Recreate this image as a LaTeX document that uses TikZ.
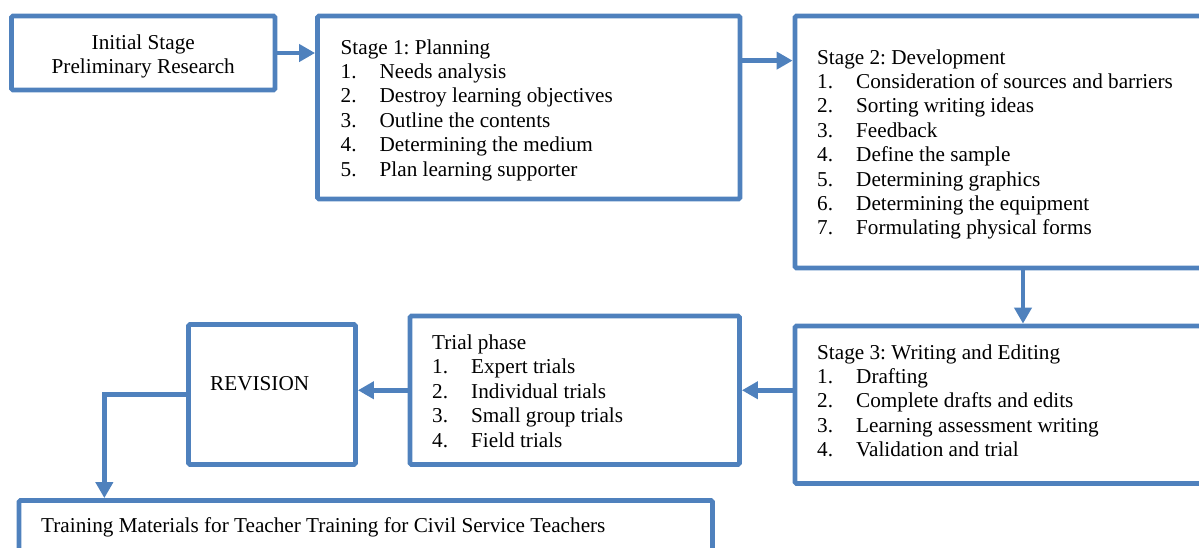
\documentclass[tikz,border=0pt]{standalone}
\usepackage{fontspec}
\setmainfont{Liberation Serif}
\usetikzlibrary{positioning,arrows.meta}

\definecolor{boxblue}{RGB}{79,129,189}

\newcommand{\stepitem}[2]{\makebox[39pt][l]{#1}#2}
\frenchspacing

\begin{document}
\begin{tikzpicture}[x=1pt, y=-1pt,
  stagebox/.style={draw=boxblue, line width=4.8pt, rounded corners=1.5pt, rectangle, inner sep=0pt},
  boxtext/.style={inner sep=0pt, anchor=base west, font=\fontsize{21.2}{24.4}\selectfont},
  flow/.style={draw=boxblue, line width=4.8pt, -{Triangle[length=16pt,width=17pt]}}]

  \useasboundingbox (0,0) rectangle (1199,547);
  \clip (0,0) rectangle (1199,547);

  % Define nodes
  \node[stagebox, minimum width=263.5pt, minimum height=74pt]    (init)  at (143.25,53)   {};
  \node[stagebox, minimum width=422.5pt, minimum height=183pt]   (s1)    at (528.75,107.5) {};
  \node[stagebox, minimum width=420pt,   minimum height=252pt]   (s2)    at (1005,142)    {};
  \node[stagebox, minimum width=420pt,   minimum height=157.5pt] (s3)    at (1005,404.75) {};
  \node[stagebox, minimum width=329.5pt, minimum height=148.5pt] (trial) at (574.75,390.25) {};
  \node[stagebox, minimum width=167pt,   minimum height=140pt]   (rev)   at (272,394.5)   {};
  \node[stagebox, minimum width=693.5pt, minimum height=69.5pt]  (final) at (365.75,535.25) {};

  % Texts
  \node[boxtext, anchor=base] (inittext) at (143.25,49.5)
    {\begin{tabular}[t]{@{}c@{}}Initial Stage\\Preliminary Research\end{tabular}};
  \node[boxtext] (s1text) at (340.5,54)
    {\begin{tabular}[t]{@{}l@{}}Stage 1: Planning\\
      \stepitem{1.}{Needs analysis}\\
      \stepitem{2.}{Destroy learning objectives}\\
      \stepitem{3.}{Outline the contents}\\
      \stepitem{4.}{Determining the medium}\\
      \stepitem{5.}{Plan learning supporter}\end{tabular}};
  \node[boxtext] (s2text) at (817,64)
    {\begin{tabular}[t]{@{}l@{}}Stage 2: Development\\
      \stepitem{1.}{Consideration of sources and barriers}\\
      \stepitem{2.}{Sorting writing ideas}\\
      \stepitem{3.}{Feedback}\\
      \stepitem{4.}{Define the sample}\\
      \stepitem{5.}{Determining graphics}\\
      \stepitem{6.}{Determining the equipment}\\
      \stepitem{7.}{Formulating physical forms}\end{tabular}};
  \node[boxtext] (s3text) at (817,359)
    {\begin{tabular}[t]{@{}l@{}}Stage 3: Writing and Editing\\
      \stepitem{1.}{Drafting}\\
      \stepitem{2.}{Complete drafts and edits}\\
      \stepitem{3.}{Learning assessment writing}\\
      \stepitem{4.}{Validation and trial}\end{tabular}};
  \node[boxtext] (trialtext) at (432,349.5)
    {\begin{tabular}[t]{@{}l@{}}Trial phase\\
      \stepitem{1.}{Expert trials}\\
      \stepitem{2.}{Individual trials}\\
      \stepitem{3.}{Small group trials}\\
      \stepitem{4.}{Field trials}\end{tabular}};
  \node[boxtext] (revtext) at (210,390) {REVISION};
  \node[boxtext] (finaltext) at (41,532)
    {Training Materials for Teacher Training for Civil Service Teachers};

  % Connect the nodes
  \coordinate[left=81.75pt of rev.west] (turn);
  \draw[flow] (init.east) -- (init.east -| s1.west);
  \draw[flow] ([yshift=-47pt]s1.north east) -- ([yshift=-47pt]s1.north east -| s2.west);
  \draw[flow] ([xshift=18pt]s2.south) -- ([xshift=18pt]s2.south |- s3.north);
  \draw[flow] (s3.west |- trial.east) -- (trial.east);
  \draw[flow] (trial.west) -- (trial.west -| rev.east);
  \draw[flow] (rev.west) -| (turn |- final.north);

\end{tikzpicture}
\end{document}
